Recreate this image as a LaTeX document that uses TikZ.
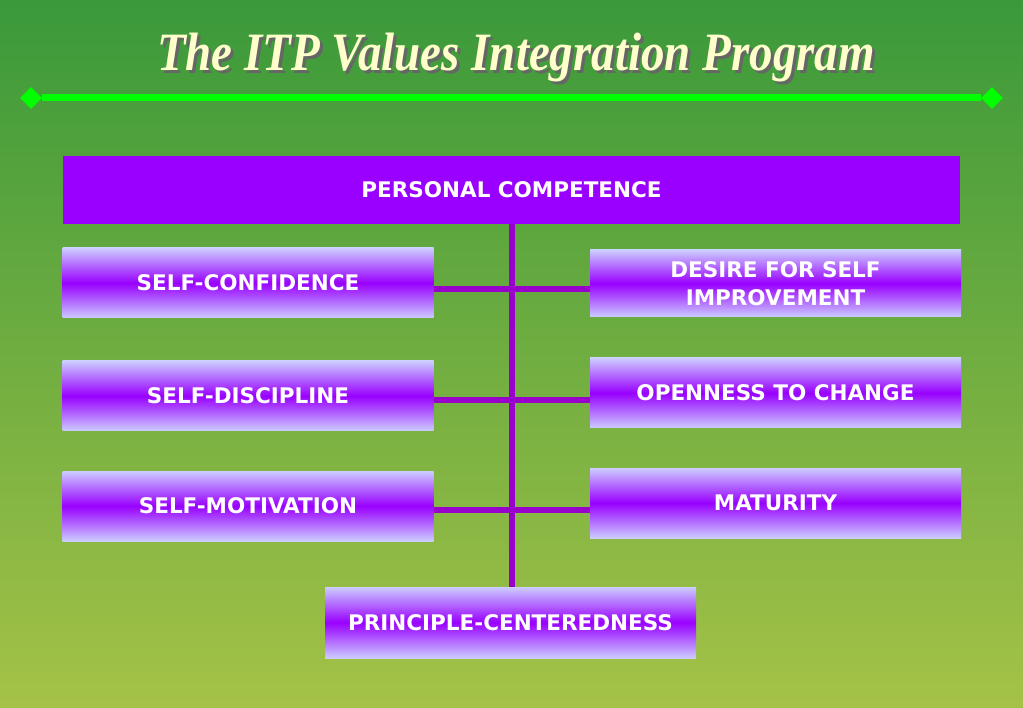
\documentclass[tikz,border=0pt]{standalone}
\usepackage{fontspec}
\setmainfont{DejaVu Sans}
\newfontfamily\titlefont{Liberation Serif}
\usetikzlibrary{shapes.geometric}
\definecolor{bgtop}{HTML}{3A993A}
\definecolor{bgbottom}{HTML}{A5C247}
\definecolor{barpurple}{HTML}{9900FF}
\definecolor{lavender}{HTML}{CCCCFF}
\definecolor{linkpurple}{HTML}{9900CC}
\definecolor{cream}{HTML}{FFFFCC}
\definecolor{lightgreen}{HTML}{00FF00}
\tikzset{valuebox/.style={minimum width=371pt,minimum height=70pt,inner sep=0pt,align=center,text=white,font=\bfseries\fontsize{21.5}{28}\selectfont,top color=lavender,bottom color=lavender,middle color=barpurple}}
\tikzset{link/.style={line width=6pt,linkpurple}}
\tikzset{titletext/.style={font=\titlefont\bfseries\itshape\fontsize{54}{58}\selectfont,xscale=0.87}}

\begin{document}
\begin{tikzpicture}[x=1pt,y=-1pt]
% Background
\shade[top color=bgtop,bottom color=bgbottom] (0,0) rectangle (1023,708);
\useasboundingbox (0,0) rectangle (1023,708);

% Title and green rule
\node[titletext,text=black!60] (titleshadow) at (519,61) {The ITP Values Integration Program};
\node[titletext,text=cream] (title) at (516,58) {The ITP Values Integration Program};
\node[diamond,fill=lightgreen,minimum width=22pt,minimum height=22pt,inner sep=0pt] (ldia) at (31,98) {};
\node[diamond,fill=lightgreen,minimum width=22pt,minimum height=22pt,inner sep=0pt] (rdia) at (992,98) {};
\draw[line width=7pt,lightgreen] (ldia) -- (rdia);

% Boxes
\node[valuebox,fill=barpurple,shade=none,minimum width=897pt,minimum height=68pt] (pc) at (511.5,190) {PERSONAL COMPETENCE};
\node[valuebox] (sc) at (248,283) {SELF-CONFIDENCE};
\node[valuebox] (sd) at (248,396) {SELF-DISCIPLINE};
\node[valuebox] (sm) at (248,506) {SELF-MOTIVATION};
\node[valuebox,minimum height=67pt] (ds) at (775.5,283.5) {DESIRE FOR SELF\\IMPROVEMENT};
\node[valuebox] (oc) at (775.5,393) {OPENNESS TO CHANGE};
\node[valuebox] (ma) at (775.5,503) {MATURITY};
\node[valuebox,minimum height=71pt] (pcd) at (510.5,622.5) {PRINCIPLE-CENTEREDNESS};

% Connectors
\draw[link] (pc.south -| 512,0) -- (pcd.north -| 512,0);
\draw[link] ([yshift=-6pt]sc.east) -- ([yshift=-6pt]sc.east -| ds.west);
\draw[link] ([yshift=-4pt]sd.east) -- ([yshift=-4pt]sd.east -| oc.west);
\draw[link] ([yshift=-4pt]sm.east) -- ([yshift=-4pt]sm.east -| ma.west);
\end{tikzpicture}
\end{document}
